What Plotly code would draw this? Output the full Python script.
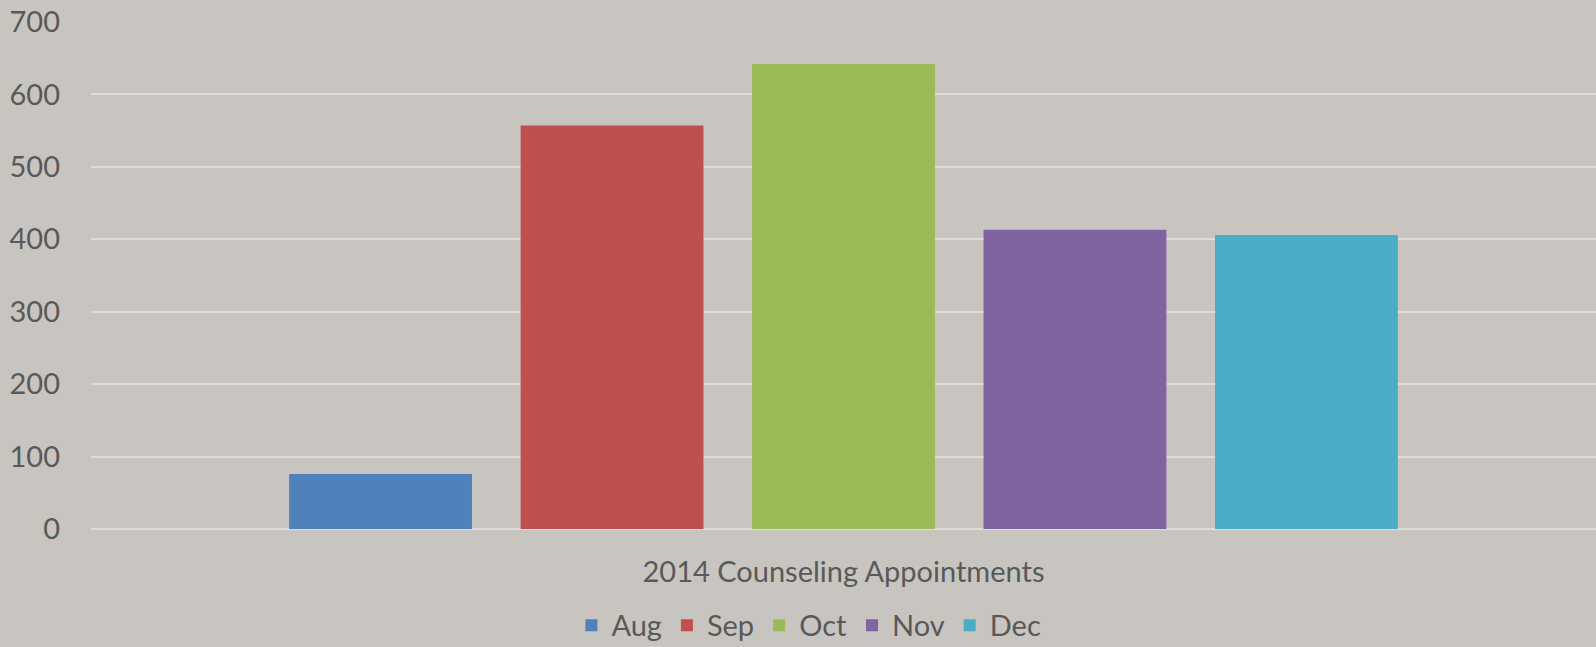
import plotly.graph_objects as go

category = ["2014 Counseling Appointments"]
months = ["Aug", "Sep", "Oct", "Nov", "Dec"]
values = [76, 557, 642, 413, 406]
colors = ["#4F81BD", "#C0504D", "#9BBB59", "#8064A2", "#4BACC6"]
y_ticks = [0, 100, 200, 300, 400, 500, 600, 700]

BG = "#C8C5C1"
GRID = "#DEDCDA"
TEXT = "#595959"
FONT = "Lato"

fig = go.Figure()
for m, v, c in zip(months, values, colors):
    fig.add_trace(go.Bar(x=category, y=[v], name=m, marker=dict(color=c, line=dict(width=0))))

fig.update_layout(
    width=1596, height=647,
    paper_bgcolor=BG, plot_bgcolor=BG,
    barmode="group", bargap=0.231, bargroupgap=0.21,
    margin=dict(l=91, r=0, t=22, b=118, autoexpand=False),
    font=dict(family=FONT, size=29, color=TEXT),
    legend=dict(orientation="h", x=0.477, xanchor="center", y=-0.19, yanchor="middle",
                font=dict(family=FONT, size=29, color=TEXT), itemsizing="constant",
                bgcolor="rgba(0,0,0,0)"),
    showlegend=True,
)
fig.update_yaxes(range=[0, 700], tickvals=y_ticks, showgrid=True, gridcolor=GRID, gridwidth=2,
                 zeroline=True, zerolinecolor=GRID, zerolinewidth=2,
                 ticks="", ticklabelstandoff=30, tickfont=dict(family=FONT, size=29, color=TEXT),
                 showline=False)
fig.update_xaxes(ticks="", ticklabelstandoff=23, tickfont=dict(family=FONT, size=29, color=TEXT),
                 showline=False, showgrid=False)

fig.write_html("out.html", config={"displayModeBar": False},
               post_script="document.body.style.margin='0';document.body.style.padding='0';"
                           "document.body.style.background='#C8C5C1';document.body.style.overflow='hidden';")
